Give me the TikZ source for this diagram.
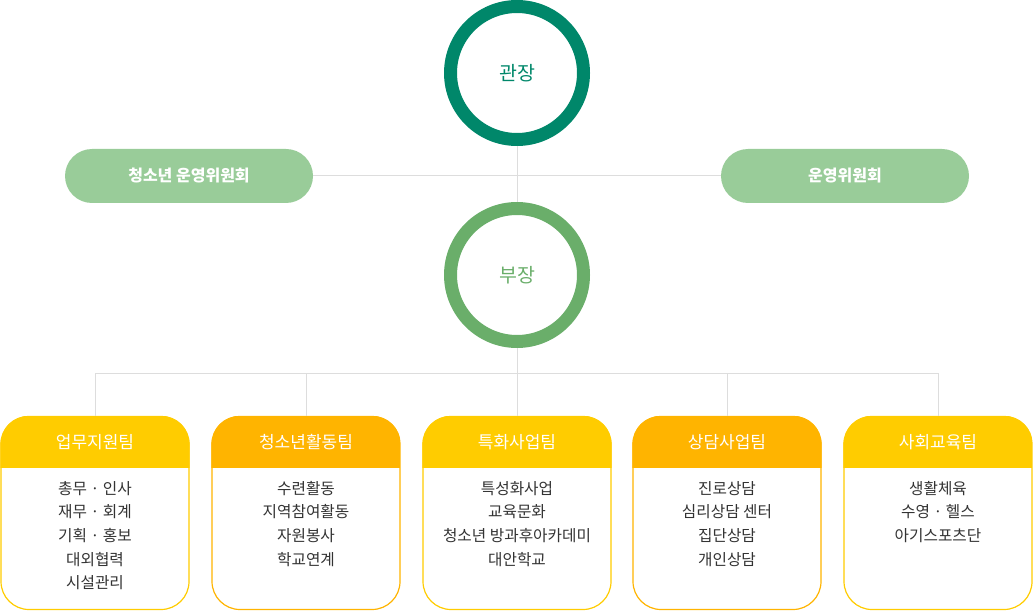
\documentclass[tikz,border=0pt]{standalone}
\usepackage{fontspec}
\setmainfont{Noto Sans CJK KR}
\usetikzlibrary{positioning}
\definecolor{chiefgreen}{HTML}{00876A}
\definecolor{deputygreen}{HTML}{6AAE6A}
\definecolor{pillgreen}{HTML}{99CC99}
\definecolor{teamyellow}{HTML}{FFCC00}
\definecolor{teamorange}{HTML}{FFB400}
\definecolor{linegray}{HTML}{DDDDDD}
\definecolor{bodygray}{HTML}{333333}

\begin{document}
\begin{tikzpicture}[x=1pt,y=-1pt,
    every node/.style={font=\fontsize{15.7}{23.7}\selectfont},
    ring/.style={circle, line width=13pt, minimum size=133pt, inner sep=0pt, font=\fontsize{19.5}{22}\selectfont},
    pill/.style={fill=pillgreen, rounded corners=27pt, minimum width=248pt, minimum height=54pt, text=white, font=\fontsize{16}{18}\selectfont\bfseries},
    teambox/.style={rounded corners=28pt, line width=1.2pt, minimum width=188pt, minimum height=193pt, fill=white},
    link/.style={draw=linegray, line width=1pt}]
  \useasboundingbox (0,0) rectangle (1033,612);

  % chief, deputy and the two committees
  \node[ring, draw=chiefgreen, text=chiefgreen] (chief) at (517,73) {관장};
  \node[ring, draw=deputygreen, text=deputygreen] (deputy) at (517,275) {부장};
  \node[pill] (youthcom) at (189,176) {청소년 운영위원회};
  \node[pill] (opcom) at (845,176) {운영위원회};
  \draw[link] (chief) -- (deputy);
  \draw[link] (youthcom) -- (opcom);

  % teams
  \coordinate (hub) at (517,373);
  \foreach \x/\c/\n/\h/\b in {
      95/teamyellow/teamA/업무지원팀/{총무 · 인사\\재무 · 회계\\기획 · 홍보\\대외협력\\시설관리},
      306/teamorange/teamB/청소년활동팀/{수련활동\\지역참여활동\\자원봉사\\학교연계},
      517/teamyellow/teamC/특화사업팀/{특성화사업\\교육문화\\청소년 방과후아카데미\\대안학교},
      727/teamorange/teamD/상담사업팀/{진로상담\\심리상담 센터\\집단상담\\개인상담},
      938/teamyellow/teamE/사회교육팀/{생활체육\\수영 · 헬스\\아기스포츠단}} {
    \node[teambox, draw=\c] (\n) at (\x,513) {};
    \begin{scope}
      \clip[rounded corners=28pt] (\n.south west) rectangle (\n.north east);
      \fill[\c] (\n.north west) rectangle ([yshift=-52pt]\n.north east);
    \end{scope}
    \node[text=white, font=\fontsize{17}{19}\selectfont] at ([yshift=-26pt]\n.north) {\h};
    \node[text=bodygray, align=center, anchor=north, inner sep=0pt] at ([yshift=-65pt]\n.north) {\b};
    \draw[link] (\n.north |- hub) -- (\n.north);
  }
  \draw[link] (deputy) -- (hub);
  \draw[link] (teamA.north |- hub) -- (teamE.north |- hub);
\end{tikzpicture}
\end{document}
